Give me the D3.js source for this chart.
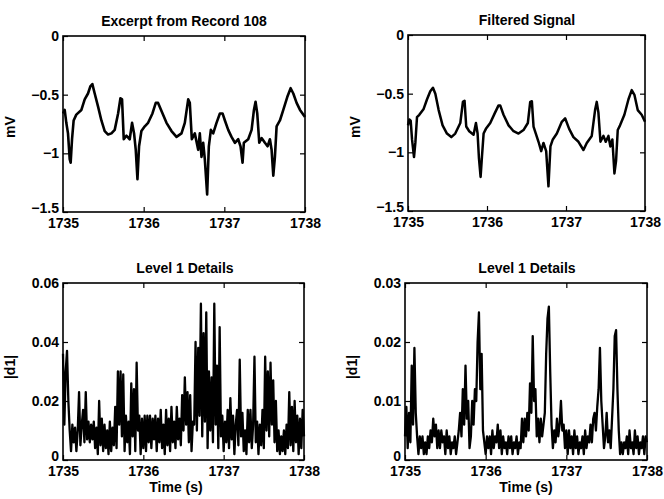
<!DOCTYPE html>
<html>
<head>
<meta charset="utf-8">
<script src="https://cdn.jsdelivr.net/npm/d3@7"></script>
<style>
body { margin: 0; background: #fff; }
svg { display: block; }
</style>
</head>
<body>
<svg id="chart"></svg>
<script>
// raw ECG excerpt, record 108 (time in s after 1735, value in mV)
var rawTime = [0.000,0.021,0.041,0.062,0.083,0.095,0.112,0.132,0.165,0.228,0.269,0.310,0.339,0.364,0.393,0.434,0.476,0.517,0.559,0.600,
  0.641,0.683,0.712,0.732,0.753,0.786,0.827,0.856,0.881,0.902,0.923,0.943,0.972,1.014,1.055,1.109,1.150,1.179,1.221,1.283,
  1.345,1.407,1.469,1.510,1.552,1.572,1.597,1.634,1.676,1.696,1.717,1.738,1.758,1.787,1.808,1.833,1.862,1.903,1.945,1.978,
  2.007,2.048,2.089,2.131,2.172,2.201,2.226,2.242,2.296,2.338,2.367,2.387,2.408,2.433,2.462,2.503,2.536,2.565,2.586,2.607,
  2.627,2.648,2.689,2.731,2.780,2.822,2.855,2.896,2.938,3.000];
var rawMv = [-0.66,-0.63,-0.74,-0.83,-1.05,-1.08,-0.88,-0.72,-0.67,-0.63,-0.54,-0.49,-0.43,-0.41,-0.49,-0.60,-0.72,-0.81,-0.84,-0.83,
  -0.80,-0.66,-0.53,-0.54,-0.88,-0.85,-0.88,-0.74,-0.83,-0.97,-1.22,-0.94,-0.81,-0.77,-0.74,-0.66,-0.57,-0.57,-0.64,-0.74,
  -0.81,-0.86,-0.83,-0.74,-0.54,-0.57,-0.88,-0.83,-0.97,-0.83,-1.03,-0.91,-1.05,-1.35,-0.94,-0.80,-0.83,-0.74,-0.66,-0.66,
  -0.72,-0.80,-0.86,-0.91,-0.88,-0.94,-1.08,-0.91,-0.88,-0.80,-0.63,-0.56,-0.66,-0.91,-0.87,-0.91,-0.94,-0.88,-0.97,-1.19,
  -1.03,-0.77,-0.72,-0.63,-0.52,-0.445,-0.49,-0.57,-0.63,-0.69];

// filtered signal
var filtTime = [0.000,0.017,0.034,0.051,0.076,0.093,0.114,0.143,0.198,0.240,0.282,0.316,0.346,0.388,0.438,0.493,0.548,0.598,0.662,0.695,
  0.716,0.737,0.775,0.830,0.860,0.881,0.898,0.919,0.936,0.957,0.986,1.041,1.096,1.146,1.167,1.209,1.273,1.336,1.399,1.462,
  1.517,1.547,1.568,1.589,1.618,1.652,1.686,1.715,1.749,1.778,1.803,1.833,1.884,1.947,1.989,2.040,2.094,2.158,2.221,2.263,
  2.326,2.368,2.389,2.410,2.436,2.474,2.503,2.537,2.562,2.587,2.613,2.634,2.655,2.684,2.739,2.790,2.832,2.866,2.908,2.958,3.000];
var filtMv = [-0.77,-0.72,-0.73,-0.89,-1.04,-0.92,-0.70,-0.68,-0.63,-0.55,-0.48,-0.45,-0.50,-0.64,-0.77,-0.84,-0.87,-0.84,-0.75,-0.57,
  -0.56,-0.78,-0.82,-0.85,-0.75,-0.84,-1.05,-1.21,-1.04,-0.84,-0.80,-0.75,-0.67,-0.60,-0.60,-0.68,-0.77,-0.82,-0.84,-0.81,
  -0.75,-0.57,-0.565,-0.78,-0.84,-0.91,-0.99,-0.92,-0.99,-1.29,-0.95,-0.89,-0.84,-0.74,-0.71,-0.80,-0.87,-0.91,-0.98,-0.92,
  -0.86,-0.64,-0.57,-0.66,-0.91,-0.86,-0.91,-0.86,-0.95,-0.89,-1.18,-1.07,-0.81,-0.77,-0.68,-0.55,-0.47,-0.51,-0.64,-0.68,-0.74];

// |d1| level 1 details, one value every 1/60 s
var rawD1 = [0.036,0.012,0.030,0.037,0.020,0.010,0.003,0.012,0.006,0.011,
  0.003,0.010,0.023,0.005,0.012,0.017,0.006,0.023,0.007,0.013,
  0.006,0.012,0.007,0.013,0.004,0.011,0.002,0.020,0.005,0.014,
  0.003,0.012,0.004,0.010,0.002,0.013,0.003,0.011,0.005,0.018,
  0.004,0.030,0.012,0.030,0.008,0.029,0.003,0.015,0.006,0.013,
  0.002,0.026,0.008,0.024,0.003,0.033,0.010,0.015,0.002,0.014,
  0.004,0.015,0.003,0.015,0.006,0.015,0.004,0.014,0.007,0.015,
  0.003,0.014,0.006,0.017,0.004,0.012,0.002,0.017,0.005,0.014,
  0.003,0.018,0.006,0.013,0.004,0.018,0.007,0.014,0.005,0.022,
  0.010,0.028,0.012,0.023,0.006,0.022,0.003,0.013,0.012,0.040,
  0.010,0.038,0.015,0.053,0.008,0.043,0.013,0.050,0.004,0.030,
  0.010,0.028,0.006,0.053,0.012,0.032,0.004,0.045,0.008,0.015,
  0.003,0.013,0.006,0.017,0.004,0.021,0.007,0.015,0.002,0.012,
  0.017,0.005,0.034,0.008,0.016,0.003,0.010,0.002,0.017,0.006,
  0.017,0.004,0.012,0.035,0.006,0.013,0.002,0.012,0.005,0.017,
  0.004,0.035,0.010,0.030,0.008,0.033,0.012,0.027,0.006,0.020,
  0.003,0.010,0.002,0.008,0.003,0.010,0.002,0.012,0.004,0.023,
  0.005,0.018,0.003,0.020,0.006,0.015,0.002,0.014,0.004,0.017,0.008];
var filtD1 = [0.004,0.009,0.002,0.008,0.003,0.016,0.006,0.019,0.008,0.004,
  0.001,0.004,0.002,0.004,0.001,0.003,0.001,0.004,0.002,0.005,
  0.003,0.007,0.004,0.006,0.002,0.005,0.002,0.005,0.003,0.004,
  0.001,0.005,0.002,0.004,0.001,0.003,0.002,0.004,0.001,0.003,
  0.005,0.008,0.004,0.012,0.006,0.016,0.007,0.010,0.002,0.004,
  0.010,0.006,0.012,0.010,0.020,0.025,0.012,0.018,0.005,0.003,
  0.001,0.004,0.002,0.004,0.001,0.005,0.002,0.004,0.003,0.006,
  0.002,0.005,0.001,0.004,0.002,0.003,0.001,0.004,0.002,0.004,
  0.001,0.003,0.002,0.004,0.001,0.003,0.002,0.007,0.003,0.007,
  0.004,0.008,0.005,0.013,0.008,0.021,0.010,0.012,0.004,0.007,
  0.003,0.007,0.004,0.006,0.008,0.018,0.024,0.026,0.015,0.006,
  0.002,0.005,0.003,0.007,0.004,0.006,0.010,0.005,0.006,0.002,
  0.005,0.001,0.005,0.002,0.004,0.001,0.005,0.002,0.004,0.001,
  0.003,0.002,0.004,0.001,0.005,0.002,0.004,0.003,0.006,0.003,
  0.007,0.008,0.005,0.009,0.012,0.019,0.010,0.006,0.002,0.004,
  0.008,0.003,0.005,0.002,0.007,0.012,0.021,0.022,0.012,0.005,
  0.001,0.003,0.001,0.003,0.002,0.004,0.001,0.005,0.002,0.003,
  0.001,0.005,0.002,0.004,0.001,0.003,0.002,0.004,0.001,0.004,0.003];

var t0 = 1735;
var xTicks = [1735, 1736, 1737, 1738];
var mvTicks = [0, -0.5, -1, -1.5];
var d1TicksL = [0, 0.02, 0.04, 0.06];
var d1TicksR = [0, 0.01, 0.02, 0.03];

function pairs(ts, vs) { return ts.map(function(t, i){ return [t0 + t, vs[i]]; }); }
function evenPairs(vs) { return vs.map(function(v, i){ return [t0 + i / 60, v]; }); }

var svg = d3.select("#chart").attr("width", 664).attr("height", 499);
var font = "'Liberation Sans', Arial, Helvetica, sans-serif";

var panels = [
  {x0: 63, x1: 305, y0: 36, y1: 212, title: "Excerpt from Record 108", titleX: 184, ylab: "mV", ylabY: 127,
   data: pairs(rawTime, rawMv), dom: [-1.5, 0], ticks: mvTicks, sw: 2.6, xlab: false},
  {x0: 408, x1: 645, y0: 35, y1: 211, title: "Filtered Signal", titleX: 527, ylab: "mV", ylabY: 127,
   data: pairs(filtTime, filtMv), dom: [-1.5, 0], ticks: mvTicks, sw: 2.5, xlab: false},
  {x0: 63, x1: 304, y0: 283, y1: 460, title: "Level 1 Details", titleX: 185, ylab: "|d1|", ylabY: 367,
   data: evenPairs(rawD1), dom: [0, 0.06], ticks: d1TicksL, sw: 2.3, xlab: true, xlabX: 176},
  {x0: 405, x1: 647, y0: 283, y1: 460, title: "Level 1 Details", titleX: 527, ylab: "|d1|", ylabY: 367,
   data: evenPairs(filtD1), dom: [0, 0.03], ticks: d1TicksR, sw: 2.3, xlab: true, xlabX: 526}
];

panels.forEach(function(p) {
  var x = d3.scaleLinear().domain([1735, 1738]).range([p.x0, p.x1]);
  var y = d3.scaleLinear().domain(p.dom).range([p.y1, p.y0]);

  var line = d3.line()
    .x(function(d){ return x(d[0]); })
    .y(function(d){ return y(d[1]); });

  svg.append("path")
    .datum(p.data)
    .attr("d", line)
    .style("fill", "none")
    .style("stroke", "#000")
    .style("stroke-width", p.sw)
    .style("stroke-linejoin", "round");

  // inward ticks, matlab style
  var gb = svg.append("g").attr("transform", "translate(0," + p.y1 + ")")
    .call(d3.axisBottom(x).tickValues(xTicks).tickFormat(d3.format("d")).tickSize(-5).tickSizeOuter(0).tickPadding(6));
  var gt = svg.append("g").attr("transform", "translate(0," + p.y0 + ")")
    .call(d3.axisTop(x).tickValues(xTicks).tickFormat("").tickSize(-5).tickSizeOuter(0));
  var gl = svg.append("g").attr("transform", "translate(" + p.x0 + ",0)")
    .call(d3.axisLeft(y).tickValues(p.ticks).tickFormat(d3.format("")).tickSize(-5).tickSizeOuter(0).tickPadding(4));
  var gr = svg.append("g").attr("transform", "translate(" + p.x1 + ",0)")
    .call(d3.axisRight(y).tickValues(p.ticks).tickFormat("").tickSize(-5).tickSizeOuter(0));

  [gb, gt, gl, gr].forEach(function(g) {
    g.select(".domain").remove();
    g.selectAll("line").style("stroke", "#000").style("stroke-width", 1.2);
    g.selectAll("text")
      .style("font-family", font)
      .style("font-weight", "bold")
      .style("font-size", "14px")
      .style("fill", "#000");
  });

  // lowest y label sits a bit higher, clear of the x labels
  gl.selectAll(".tick text")
    .filter(function(d){ return d === p.dom[0]; })
    .attr("dy", "0.05em");

  svg.append("rect")
    .attr("x", p.x0).attr("y", p.y0)
    .attr("width", p.x1 - p.x0).attr("height", p.y1 - p.y0)
    .style("fill", "none")
    .style("stroke", "#000")
    .style("stroke-width", 1.6);

  svg.append("text")
    .attr("x", p.titleX).attr("y", p.y0 - 10)
    .attr("text-anchor", "middle")
    .style("font-family", font).style("font-weight", "bold").style("font-size", "14px")
    .text(p.title);

  svg.append("text")
    .attr("transform", "translate(" + (p.x0 - 48) + "," + p.ylabY + ")rotate(-90)")
    .attr("text-anchor", "middle")
    .style("font-family", font).style("font-weight", "bold").style("font-size", "14px")
    .text(p.ylab);

  if (p.xlab) {
    svg.append("text")
      .attr("x", p.xlabX).attr("y", 492)
      .attr("text-anchor", "middle")
      .style("font-family", font).style("font-weight", "bold").style("font-size", "14px")
      .text("Time (s)");
  }
});
</script>
</body>
</html>
